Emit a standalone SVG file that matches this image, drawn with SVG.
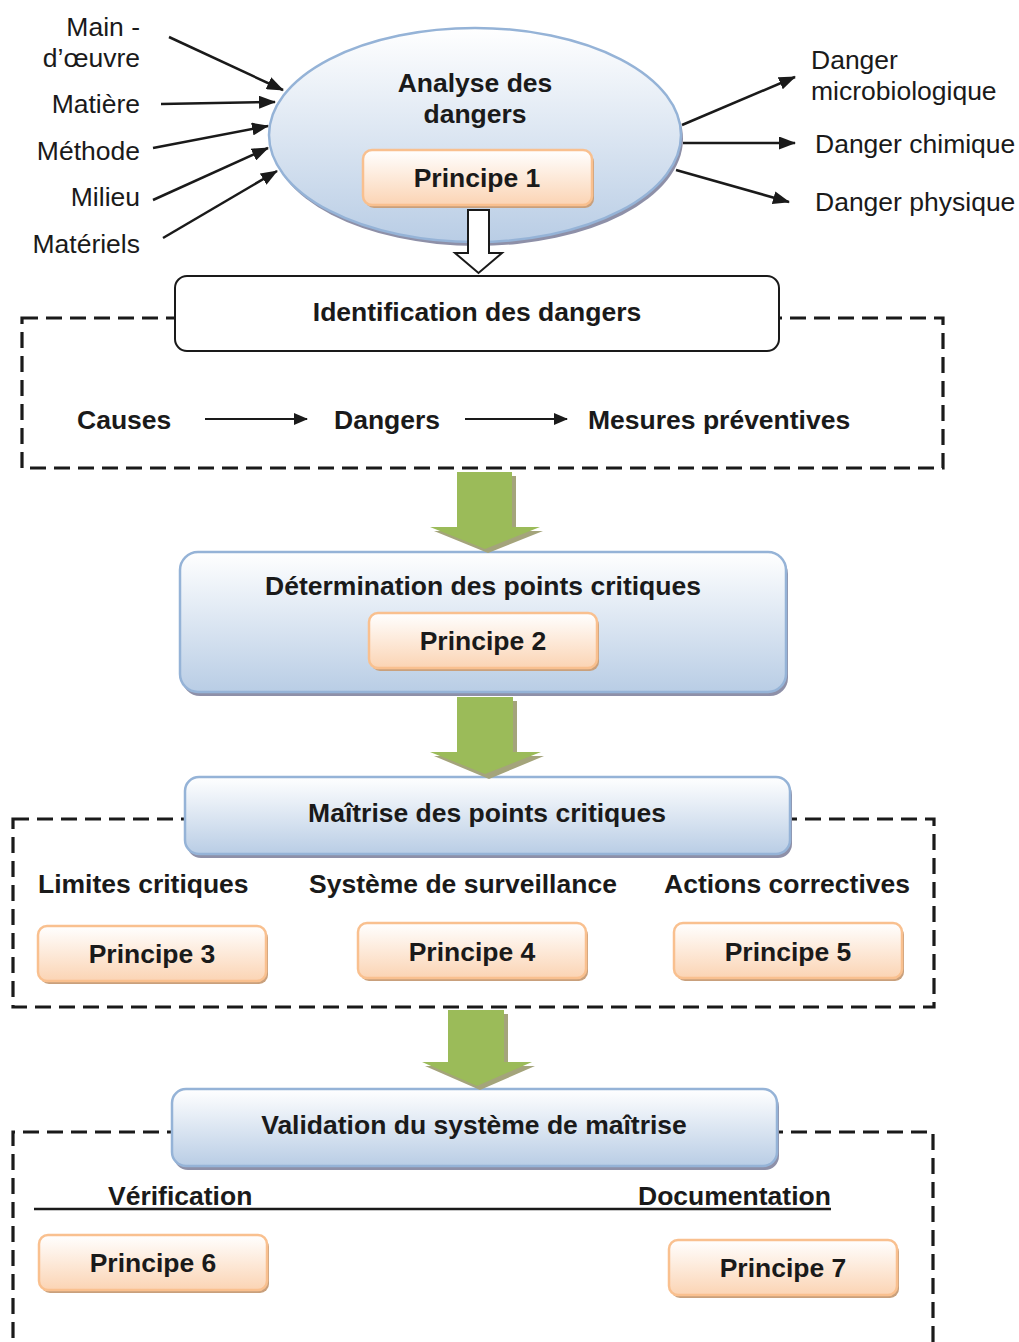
<svg xmlns="http://www.w3.org/2000/svg" width="1019" height="1342" viewBox="0 0 1019 1342">
  <defs>
    <linearGradient id="blueFill" x1="0" y1="0" x2="0" y2="1">
      <stop offset="0" stop-color="#ffffff"/>
      <stop offset="1" stop-color="#b9cde5"/>
    </linearGradient>
    <linearGradient id="peachFill" x1="0" y1="0" x2="0" y2="1">
      <stop offset="0" stop-color="#ffffff"/>
      <stop offset="1" stop-color="#fbd4b4"/>
    </linearGradient>
    <marker id="head" markerUnits="userSpaceOnUse" markerWidth="17" markerHeight="13" refX="16" refY="6.5" orient="auto">
      <path d="M0,0 L17,6.5 L0,13 z" fill="#1a1a1a"/>
    </marker>
    <marker id="headSmall" markerUnits="userSpaceOnUse" markerWidth="14" markerHeight="12" refX="13" refY="6" orient="auto">
      <path d="M0,0 L14,6 L0,12 z" fill="#1a1a1a"/>
    </marker>
  </defs>
  <style>
    text { font-family: "Liberation Sans", Arial, sans-serif; fill: #1a1a1a; }
    .b { font-weight: bold; font-size: 26.5px; }
    .r { font-size: 26.5px; }
    .c { text-anchor: middle; }
    .e { text-anchor: end; }
    .blue { fill: url(#blueFill); stroke: #95b3d7; stroke-width: 2.5; }
    .blueShadow { fill: #8e90a8; }
    .peach { fill: url(#peachFill); stroke: #f9c08f; stroke-width: 2.5; }
    .peachShadow { fill: #c9a07c; }
    .dash { fill: none; stroke: #1a1a1a; stroke-width: 3.2; stroke-dasharray: 16 8; }
    .arrow { stroke: #1a1a1a; stroke-width: 2.5; fill: none; marker-end: url(#head); }
    .arrowSmall { stroke: #1a1a1a; stroke-width: 2.2; fill: none; marker-end: url(#headSmall); }
    .green { fill: #9bbb59; }
    .greenShadow { fill: #a4a47b; }
  </style>

  <!-- dashed frames -->
  <g id="frames">
    <rect class="dash" x="22" y="318" width="921" height="150"/>
    <rect class="dash" x="13" y="819" width="921" height="188"/>
    <path class="dash" d="M13,1338 V1132 H933 V1342"/>
  </g>

  <!-- inputs -->
  <g id="inputs">
    <text class="r e" x="140" y="36">Main -</text>
    <text class="r e" x="140" y="67">d’œuvre</text>
    <text class="r e" x="140" y="113">Matière</text>
    <text class="r e" x="140" y="160">Méthode</text>
    <text class="r e" x="140" y="206">Milieu</text>
    <text class="r e" x="140" y="253">Matériels</text>
  </g>

  <!-- outputs -->
  <g id="outputs">
    <text class="r" x="811" y="69">Danger</text>
    <text class="r" x="811" y="100">microbiologique</text>
    <text class="r" x="815" y="153">Danger chimique</text>
    <text class="r" x="815" y="211">Danger physique</text>
  </g>

  <!-- hazard analysis -->
  <g id="analyse">
    <ellipse cx="477" cy="139" rx="206" ry="107" fill="#8e90a8"/>
    <ellipse class="blue" cx="475" cy="135" rx="206" ry="107"/>
    <text class="b c" x="475" y="92">Analyse des</text>
    <text class="b c" x="475" y="123">dangers</text>
  </g>
  <g id="principe1">
    <rect class="peachShadow" x="365" y="153" width="229" height="55" rx="9"/>
    <rect class="peach" x="363" y="150" width="229" height="55" rx="9"/>
    <text class="b c" x="477" y="187">Principe 1</text>
  </g>

  <g id="identification">
    <rect x="175" y="276" width="604" height="75" rx="12" fill="#ffffff" stroke="#1a1a1a" stroke-width="2"/>
    <text class="b c" x="477" y="321">Identification des dangers</text>
  </g>
  <g id="chaine">
    <text class="b" x="77" y="429">Causes</text>
    <text class="b" x="334" y="429">Dangers</text>
    <text class="b" x="588" y="429">Mesures préventives</text>
  </g>

  <g id="determination">
    <rect class="blueShadow" x="182" y="556" width="606" height="140" rx="18"/>
    <rect class="blue" x="180" y="552" width="606" height="140" rx="18"/>
    <text class="b c" x="483" y="595">Détermination des points critiques</text>
  </g>
  <g id="principe2">
    <rect class="peachShadow" x="371" y="616" width="228" height="55" rx="9"/>
    <rect class="peach" x="369" y="613" width="228" height="55" rx="9"/>
    <text class="b c" x="483" y="650">Principe 2</text>
  </g>

  <g id="maitrise">
    <rect class="blueShadow" x="187" y="781" width="605" height="77" rx="14"/>
    <rect class="blue" x="185" y="777" width="605" height="77" rx="14"/>
    <text class="b c" x="487" y="822">Maîtrise des points critiques</text>
  </g>
  <g id="sous-maitrise">
    <text class="b" x="38" y="893">Limites critiques</text>
    <text class="b" x="309" y="893">Système de surveillance</text>
    <text class="b" x="664" y="893">Actions correctives</text>
  </g>
  <g id="principe3">
    <rect class="peachShadow" x="40" y="929" width="228" height="55" rx="9"/>
    <rect class="peach" x="38" y="926" width="228" height="55" rx="9"/>
    <text class="b c" x="152" y="963">Principe 3</text>
  </g>
  <g id="principe4">
    <rect class="peachShadow" x="360" y="926" width="228" height="55" rx="9"/>
    <rect class="peach" x="358" y="923" width="228" height="55" rx="9"/>
    <text class="b c" x="472" y="961">Principe 4</text>
  </g>
  <g id="principe5">
    <rect class="peachShadow" x="676" y="926" width="228" height="55" rx="9"/>
    <rect class="peach" x="674" y="923" width="228" height="55" rx="9"/>
    <text class="b c" x="788" y="961">Principe 5</text>
  </g>

  <g id="validation">
    <rect class="blueShadow" x="174" y="1093" width="605" height="77" rx="14"/>
    <rect class="blue" x="172" y="1089" width="605" height="77" rx="14"/>
    <text class="b c" x="474" y="1134">Validation du système de maîtrise</text>
  </g>
  <g id="sous-validation">
    <text class="b" x="108" y="1205">Vérification</text>
    <text class="b" x="638" y="1205">Documentation</text>
  </g>
  <g id="principe6">
    <rect class="peachShadow" x="41" y="1238" width="228" height="55" rx="9"/>
    <rect class="peach" x="39" y="1235" width="228" height="55" rx="9"/>
    <text class="b c" x="153" y="1272">Principe 6</text>
  </g>
  <g id="principe7">
    <rect class="peachShadow" x="671" y="1243" width="228" height="55" rx="9"/>
    <rect class="peach" x="669" y="1240" width="228" height="55" rx="9"/>
    <text class="b c" x="783" y="1277">Principe 7</text>
  </g>

  <!-- connectors, drawn last so they sit on top of the nodes -->
  <g id="connectors">
    <line class="arrow" x1="169" y1="37" x2="283" y2="90"/>
    <line class="arrow" x1="161" y1="104" x2="275" y2="102"/>
    <line class="arrow" x1="153" y1="148" x2="268" y2="126"/>
    <line class="arrow" x1="153" y1="200" x2="268" y2="148"/>
    <line class="arrow" x1="163" y1="238" x2="277" y2="171"/>
    <line class="arrow" x1="682" y1="125" x2="795" y2="77"/>
    <line class="arrow" x1="683" y1="143" x2="795" y2="143"/>
    <line class="arrow" x1="676" y1="170" x2="789" y2="202"/>
    <line class="arrowSmall" x1="205" y1="419" x2="307" y2="419"/>
    <line class="arrowSmall" x1="465" y1="419" x2="567" y2="419"/>
    <!-- hollow arrow from Principe 1 -->
    <polygon points="468,210 489,210 489,253 502,253 478.5,273 455,253 468,253" fill="#ffffff" stroke="#1a1a1a" stroke-width="2"/>
    <!-- green block arrows with their shadows -->
    <g>
      <polygon class="greenShadow" points="461,476 516,476 516,531 543,531 488,553 434,531 461,531"/>
      <polygon class="green" points="457,472 512,472 512,527 540,527 485,549 430,527 457,527"/>
    </g>
    <g>
      <polygon class="greenShadow" points="461,701 517,701 517,756 544,756 489,779 434,756 461,756"/>
      <polygon class="green" points="457,697 513,697 513,752 541,752 485,774 430,752 457,752"/>
    </g>
    <g>
      <polygon class="greenShadow" points="452,1014 508,1014 508,1066 535,1066 480,1090 425,1066 452,1066"/>
      <polygon class="green" points="448,1010 504,1010 504,1062 532,1062 477,1086 422,1062 448,1062"/>
    </g>
    <line x1="34" y1="1209" x2="831" y2="1209" stroke="#1a1a1a" stroke-width="2.5"/>
  </g>
</svg>
